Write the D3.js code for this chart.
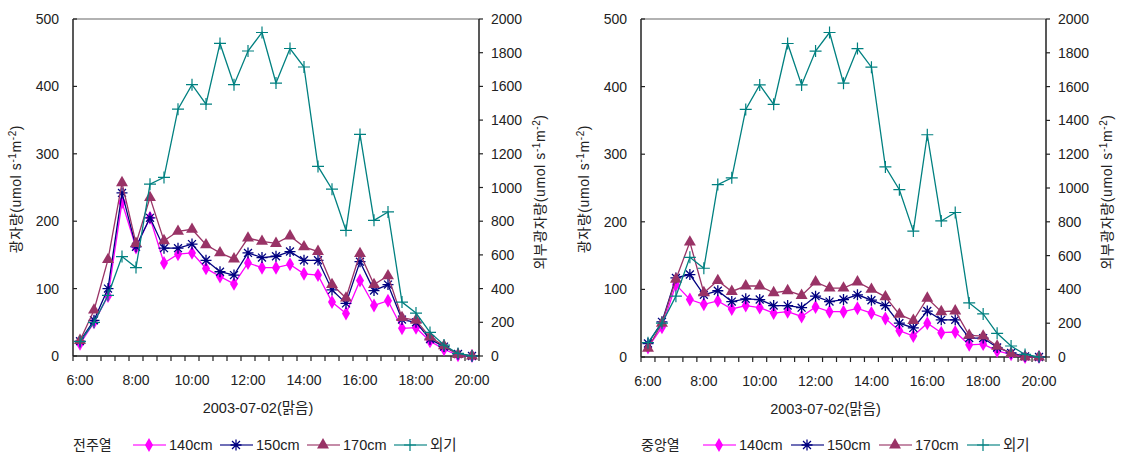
<!DOCTYPE html>
<html>
<head>
<meta charset="utf-8">
<script src="https://cdn.jsdelivr.net/npm/d3@7"></script>
<style>
body { margin: 0; background: #fff; }
text { font-family: "Liberation Sans", Arial, "Noto Sans CJK KR", sans-serif; fill: #222; }
</style>
</head>
<body>
<svg id="chart" width="1122" height="457"></svg>
<script>
// half-hour readings, 6:00 - 20:00
var times = ["6:00","6:30","7:00","7:30","8:00","8:30","9:00","9:30","10:00","10:30","11:00","11:30","12:00","12:30",
  "13:00","13:30","14:00","14:30","15:00","15:30","16:00","16:30","17:00","17:30","18:00","18:30","19:00","19:30","20:00"];
var tickLabels = ["6:00","8:00","10:00","12:00","14:00","16:00","18:00","20:00"];
var leftTicks = [0, 100, 200, 300, 400, 500];
var rightTicks = [0, 200, 400, 600, 800, 1000, 1200, 1400, 1600, 1800, 2000];

// 전주열
var jj140 = [18,50,89,228,161,205,138,151,153,130,118,107,138,131,131,136,122,120,80,63,112,75,82,41,42,22,10,1,0];
var jj150 = [22,53,100,242,162,205,160,160,166,142,125,120,153,146,148,155,142,142,98,78,140,97,106,54,50,25,14,3,0];
var jj170 = [23,68,143,257,167,235,171,185,188,165,153,144,175,170,167,178,162,155,106,86,152,106,119,57,53,28,15,2,0];
// 중앙열
var jy140 = [14,44,107,85,78,83,71,76,73,65,67,60,74,67,67,72,65,57,39,31,50,36,37,18,19,9,4,0,0];
var jy150 = [20,52,117,122,92,98,82,86,85,76,76,73,90,82,85,92,84,76,50,43,68,55,55,28,28,14,6,1,0];
var jy170 = [13,50,115,170,95,113,97,105,105,95,98,91,111,102,102,111,100,89,63,54,87,67,68,32,31,16,5,0,0];
// 외기 (right axis)
var outside = [85,200,360,590,525,1020,1060,1465,1610,1495,1855,1610,1810,1920,1620,1825,1715,1125,990,745,1315,805,855,320,255,140,65,15,0];

var svg = d3.select("#chart");

function asteriskPath(s) {
  var d = s * 0.72;
  return "M" + (-s) + ",0L" + s + ",0M0," + (-s) + "L0," + s +
    "M" + (-d) + "," + (-d) + "L" + d + "," + d + "M" + (-d) + "," + d + "L" + d + "," + (-d);
}
function plusPath(s) {
  return "M" + (-s) + ",0L" + s + ",0M0," + (-s) + "L0," + s;
}

var seriesStyle = [
  { name: "140cm", color: "#ff00ff", marker: function(g){ g.append("path").attr("d", d3.symbol(d3.symbolDiamond, 56)()).attr("fill", "#ff00ff"); } },
  { name: "150cm", color: "#000080", marker: function(g){ g.append("path").attr("d", asteriskPath(5.5)).attr("stroke", "#000080").attr("stroke-width", 1.3).attr("fill", "none"); } },
  { name: "170cm", color: "#993366", marker: function(g){ g.append("path").attr("d", d3.symbol(d3.symbolTriangle, 62)()).attr("fill", "#993366"); } },
  { name: "외기", color: "#008080", marker: function(g){ g.append("path").attr("d", plusPath(6)).attr("stroke", "#008080").attr("stroke-width", 1.2).attr("fill", "none"); } }
];

function drawPanel(opt) {
  var g = svg.append("g");
  var x = d3.scalePoint().domain(times).range([opt.x0, opt.x1]).padding(0.5);
  var yl = d3.scaleLinear().domain([0, 500]).range([opt.y1, opt.y0]);
  var yr = d3.scaleLinear().domain([0, 2000]).range([opt.y1, opt.y0]);
  var step = x.step();

  // frame
  g.append("line").attr("x1", opt.x0).attr("x2", opt.x1).attr("y1", opt.y0).attr("y2", opt.y0)
    .attr("stroke", "#999").attr("stroke-width", 1.5);
  g.append("line").attr("x1", opt.x0).attr("x2", opt.x0).attr("y1", opt.y0).attr("y2", opt.y1)
    .attr("stroke", "#222").attr("stroke-width", 1.5);
  g.append("line").attr("x1", opt.x1).attr("x2", opt.x1).attr("y1", opt.y0).attr("y2", opt.y1)
    .attr("stroke", "#222").attr("stroke-width", 1.5);
  g.append("line").attr("x1", opt.x0).attr("x2", opt.x1).attr("y1", opt.y1).attr("y2", opt.y1)
    .attr("stroke", "#222").attr("stroke-width", 1.5);

  // category boundary ticks
  var bounds = times.map(function(t){ return x(t) - step / 2; });
  bounds.push(x(times[times.length - 1]) + step / 2);
  g.selectAll(".bt").data(bounds).enter().append("line")
    .attr("x1", function(d){ return d; }).attr("x2", function(d){ return d; })
    .attr("y1", opt.y1).attr("y2", opt.y1 + 5).attr("stroke", "#222").attr("stroke-width", 1.2);

  g.selectAll(".xl").data(tickLabels).enter().append("text")
    .attr("x", function(d){ return x(d); }).attr("y", opt.y1 + 29)
    .attr("text-anchor", "middle").attr("font-size", 14).text(function(d){ return d; });

  // left ticks point inward
  g.selectAll(".lt").data(leftTicks).enter().append("line")
    .attr("x1", opt.x0).attr("x2", opt.x0 + 4)
    .attr("y1", function(d){ return yl(d); }).attr("y2", function(d){ return yl(d); })
    .attr("stroke", "#222").attr("stroke-width", 1.2);
  g.selectAll(".yl").data(leftTicks).enter().append("text")
    .attr("x", opt.x0 - 14).attr("y", function(d){ return yl(d) + 5; })
    .attr("text-anchor", "end").attr("font-size", 14).text(function(d){ return d; });

  g.selectAll(".rt").data(rightTicks).enter().append("line")
    .attr("x1", opt.x1).attr("x2", opt.x1 + 4)
    .attr("y1", function(d){ return yr(d); }).attr("y2", function(d){ return yr(d); })
    .attr("stroke", "#222").attr("stroke-width", 1.2);
  g.selectAll(".yr").data(rightTicks).enter().append("text")
    .attr("x", opt.x1 + 12).attr("y", function(d){ return yr(d) + 5; })
    .attr("font-size", 14).text(function(d){ return d; });

  // axis titles
  function yTitle(cx, cy, label) {
    var t = g.append("text").attr("transform", "translate(" + cx + "," + cy + ") rotate(-90)")
      .attr("text-anchor", "middle").attr("font-size", 14).attr("letter-spacing", 0.6);
    t.append("tspan").text(label + "(umol s");
    t.append("tspan").attr("dy", -5).attr("font-size", 10).text("-1");
    t.append("tspan").attr("dy", 5).text("m");
    t.append("tspan").attr("dy", -5).attr("font-size", 10).text("-2");
    t.append("tspan").attr("dy", 5).text(")");
  }
  yTitle(opt.x0 - 52, 189, "광자량");
  yTitle(opt.x1 + 66, 192, "외부광자량");

  g.append("text").attr("x", (opt.x0 + opt.x1) / 2 - 18).attr("y", opt.y1 + 57)
    .attr("text-anchor", "middle").attr("font-size", 14.5).text("2003-07-02(맑음)");

  // series
  var sets = [
    { values: opt.s140, y: yl, style: seriesStyle[0] },
    { values: opt.s150, y: yl, style: seriesStyle[1] },
    { values: opt.s170, y: yl, style: seriesStyle[2] },
    { values: outside, y: yr, style: seriesStyle[3] }
  ];
  sets.forEach(function(s) {
    var line = d3.line().x(function(d, i){ return x(times[i]); }).y(function(d){ return s.y(d); });
    g.append("path").datum(s.values).attr("d", line).attr("fill", "none")
      .attr("stroke", s.style.color).attr("stroke-width", 1.3);
    s.values.forEach(function(v, i) {
      var m = g.append("g").attr("transform", "translate(" + x(times[i]) + "," + s.y(v) + ")");
      s.style.marker(m);
    });
  });

  // legend
  var ly = 445;
  g.append("text").attr("x", opt.x0).attr("y", ly + 5).attr("font-size", 14).text(opt.title);
  opt.legendX.forEach(function(lx, i) {
    var st = seriesStyle[i];
    g.append("line").attr("x1", lx).attr("x2", lx + 33).attr("y1", ly).attr("y2", ly)
      .attr("stroke", st.color).attr("stroke-width", 1.6).attr("opacity", 0.75);
    st.marker(g.append("g").attr("transform", "translate(" + (lx + 16) + "," + ly + ")"));
    g.append("text").attr("x", lx + 36).attr("y", ly + 5).attr("font-size", 14.5).text(st.name);
  });
}

drawPanel({ x0: 73, x1: 479, y0: 19, y1: 356, s140: jj140, s150: jj150, s170: jj170,
  title: "전주열", legendX: [133, 220, 307, 394] });
drawPanel({ x0: 641, x1: 1046, y0: 19, y1: 357, s140: jy140, s150: jy150, s170: jy170,
  title: "중앙열", legendX: [703, 791, 879, 967] });
</script>
</body>
</html>
